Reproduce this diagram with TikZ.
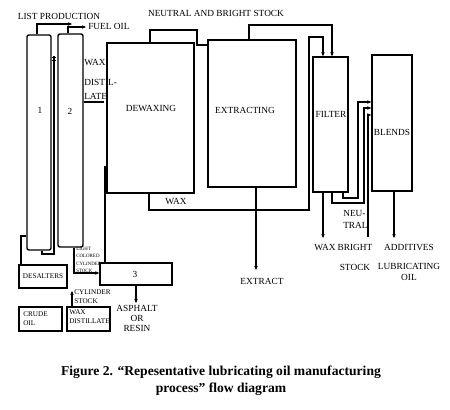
\documentclass[tikz,border=0pt]{standalone}
\usepackage{fontspec}
\setmainfont{Liberation Serif}
\usetikzlibrary{arrows.meta,fit}
\begin{document}
\begin{tikzpicture}[x=0.75pt,y=-0.75pt,
  box/.style={draw, line width=1.05pt, inner sep=0pt, rectangle},
  col/.style={box, rounded corners=1.5pt},
  ln/.style={line width=1.05pt},
  arr/.style={ln, -{Stealth[length=3pt,width=2.6pt]}},
  txt/.style={inner sep=0pt, font=\fontsize{7}{8}\selectfont},
  stxt/.style={inner sep=0pt, font=\fontsize{5.4}{6.75}\selectfont, align=left},
  tinytxt/.style={inner sep=0pt, font=\fontsize{3.7}{5.5}\selectfont, align=left},
  captxt/.style={inner sep=0pt, font=\fontsize{10.2}{12.75}\selectfont\bfseries, align=center}]
\useasboundingbox (0,0) rectangle (450,410);

% boxes
\node[col, fit={(27,35) (51,250)}] (c1) {};
\node[col, fit={(58,34) (83,247)}] (c2) {};
\node[box, fit={(107,43) (194,193)}] (dew) {};
\node[box, fit={(208,40) (296,187)}] (ext) {};
\node[box, fit={(313,57) (348,192)}] (fil) {};
\node[box, fit={(372,55) (412,191)}] (ble) {};
\node[box, fit={(100,263) (172,285)}] (b3) {};
\node[box, fit={(19,265) (67,288)}] (des) {};
\node[box, fit={(19,307) (62,331)}] (crude) {};
\node[box, fit={(67,307) (110,331)}] (wd) {};

% box texts
\node[txt] (t1) at (40,110) {1};
\node[txt] (t2) at (70,111) {2};
\node[txt] (tdew) at (151,108) {DEWAXING};
\node[txt] (text) at (245,110) {EXTRACTING};
\node[txt] (tfil) at (331,114) {FILTER};
\node[txt] (tble) at (392,132) {BLENDS};
\node[txt] (t3) at (135,274) {3};
\node[stxt] (tdes) at (43,276.5) {DESALTERS};
\node[stxt, anchor=west] (tcrude) at (23,318.5) {CRUDE\\OIL};
\node[stxt, anchor=west] (twd) at (69,316.5) {WAX\\DISTILLATE};

% free labels
\node[txt] (llist) at (59,16) {LIST PRODUCTION};
\node[txt, anchor=west] (lfuel) at (88,26) {FUEL OIL};
\node[txt] (lnbs) at (216,13) {NEUTRAL AND BRIGHT STOCK};
\node[txt, anchor=west] (lwax1) at (84,62) {WAX};
\node[txt, anchor=west, align=left, font=\fontsize{7}{10.5}\selectfont] (ldist) at (84,89) {DISTIL-\\LATE};
\node[txt] (lwax2) at (176,201) {WAX};
\node[tinytxt, anchor=west] (llcs) at (76,260) {LIGHT\\COLORED\\CYLINDER\\STOCK};
\node[stxt, anchor=west] (lcs) at (74,296.5) {CYLINDER\\STOCK};
\node[txt, align=center, font=\fontsize{7}{7.5}\selectfont] (lasph) at (137,318) {ASPHALT\\OR\\RESIN};
\node[txt] (lextr) at (262,281) {EXTRACT};
\node[txt] (lwax3) at (325,247) {WAX};
\node[txt, anchor=west, align=left, font=\fontsize{7}{9}\selectfont] (lneu) at (343,219) {NEU-\\TRAL};
\node[txt] (lbright) at (355,247) {BRIGHT};
\node[txt] (lstock) at (355,267) {STOCK};
\node[txt] (ladd) at (409,247) {ADDITIVES};
\node[txt, align=center, font=\fontsize{7}{8.25}\selectfont] (llub) at (409,271.5) {LUBRICATING\\OIL};

\node[captxt] (cap) at (221,380.5) {Figure 2. “Repesentative lubricating oil manufacturing\\process” flow diagram};

% free ends
\coordinate (lp) at (72,24);
\coordinate (fo) at (86,27);
\coordinate (ex) at (256,270);
\coordinate (wx) at (323,238);
\coordinate (ad) at (394,238);
\coordinate (bs) at (368,237);
\coordinate (pp) at (54,56);
\coordinate (dl) at (104,102);
\coordinate (cs) at (72,291);
\coordinate (as) at (136,303);

% connectors
\draw[arr] (c1.north -| 37,0) |- (lp);
\draw[arr] (c2.north -| 68,0) |- (fo);
\draw[ln] (dew.north -| 150,0) |- (197,30) |- (ext.west |- 0,45);
\draw[arr] (ext.north -| 249,0) |- (332,25) -- (fil.north -| 332,0);
\draw[arr] (dew.south -| 149,0) |- (309,210) |- (323,37) -- (fil.north -| 323,0);
\draw[arr] (ext.south -| ex) -- (ex);
\draw[arr] (fil.south -| wx) -- (wx);
\draw[arr] (ble.south -| ad) -- (ad);
\draw[arr] (fil.south -| 332,0) |- (364,203) |- (ble.west |- 0,108);
\draw[arr] (fil.south -| 343,0) |- (358,198) |- (ble.west |- 0,102);
\draw[arr] (bs) |- (ble.west |- 0,115);
\draw[ln] (des.north -| 21,0) |- (c1.west |- 0,236);
\draw[ln] (c1.south -| 42,0) |- (54,254) -- (pp);
\draw[line width=0.5pt] (52,57) -- (56,57) (52,60) -- (56,60);
\draw[ln] (c2.east |- 0,102) -- (dl);
\draw[ln] (dew.west |- 0,167) -| (b3.north -| 105,0);
\draw[arr] (c2.south -| 74,0) |- (b3.west |- 0,273);
\draw[arr] (wd.north -| cs) -- (cs);
\draw[arr] (b3.south -| as) -- (as);
\end{tikzpicture}
\end{document}
